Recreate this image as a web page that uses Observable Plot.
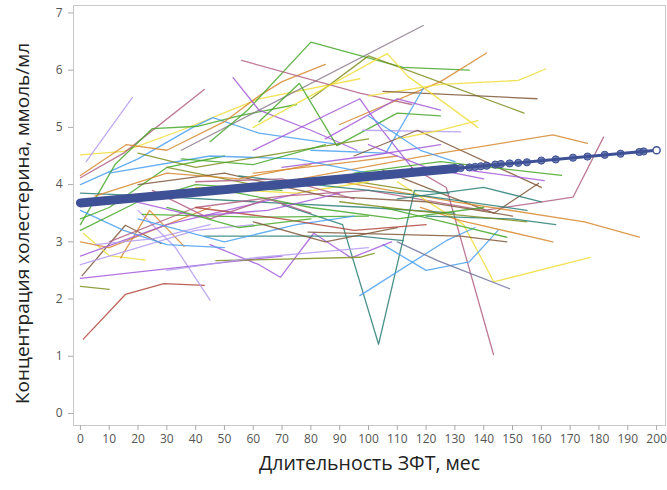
<!DOCTYPE html>
<html>
<head>
<meta charset="utf-8">
<script src="https://cdn.jsdelivr.net/npm/d3@7"></script>
<script src="https://cdn.jsdelivr.net/npm/@observablehq/plot@0.6"></script>
<style>
  html, body { margin: 0; padding: 0; background: #fff; }
  #chart { width: 667px; height: 490px; }
</style>
</head>
<body>
<div id="chart"></div>
<script>
// ---- Data ----
const xTicks = [0,10,20,30,40,50,60,70,80,90,100,110,120,130,140,150,160,170,180,190,200];
const yTicks = [0,1,2,3,4,5,6,7];

const xTitle = "Длительность ЗФТ, мес";
const yTitle = "Концентрация холестерина, ммоль/мл";

// palette of individual patient lines
const G = "#47A82A", Y = "#EEDD3A", L = "#B49AF0", O = "#D68A30", M = "#B26084",
      B = "#4AA0F0", P = "#A55AD8", OL = "#7F8E1F", T = "#2A7F76", BR = "#80583A",
      R = "#B0473C", SL = "#6A6F9A", GR = "#8C7C8C";

// individual trajectories: [month, value] pairs
const patientSeries = [
  [[0,4.52],[15,4.58],[35,4.95],[62,5.5],[97,5.85]],
  [[2,4.4],[18,5.52]],
  [[0,4.12],[15,4.55],[43,5.66]],
  [[0,4.0],[20,4.45],[39,5.0],[46,5.17],[62,4.9],[90,4.7]],
  [[0,3.3],[12,4.35],[25,4.98],[41,5.02],[55,5.2],[75,5.4]],
  [[0,4.16],[16,4.7],[30,4.6],[50,5.1],[62,5.55],[70,5.8],[85,6.1]],
  [[35,4.6],[119,6.78]],
  [[45,4.75],[58,5.3],[80,6.49],[112,6.05],[135,6.0]],
  [[56,6.17],[97,5.6],[115,5.4]],
  [[53,5.87],[62,5.3],[80,4.95],[96,4.6]],
  [[80,5.5],[100,6.25],[154,5.25]],
  [[90,5.05],[125,5.8],[141,6.3]],
  [[100,5.55],[125,5.75],[152,5.82],[161.5,6.02]],
  [[105,5.63],[158.5,5.5]],
  [[60,5.0],[106.5,6.29],[113.5,5.9],[138,5.0]],
  [[62,5.1],[76,5.77],[89,4.68],[110,5.25],[125,5.2]],
  [[80,4.6],[106,4.55],[119,5.68]],
  [[60,4.6],[97,5.5],[104,5.0],[115,4.3]],
  [[98,4.95],[132,4.92]],
  [[95,4.5],[117,4.95],[160,3.95]],
  [[95,4.2],[125,4.4],[167,4.16]],
  [[135,4.25],[161,4.07]],
  [[105,4.25],[125,3.85],[143.5,3.5],[159,4.02]],
  [[100,3.9],[140,3.55],[158,3.68],[171,3.78],[181.6,4.83]],
  [[85,4.1],[130,3.7],[175,3.35],[194,3.08]],
  [[110,4.05],[133,3.3],[143.5,2.3],[177,2.73]],
  [[60,3.95],[125,4.55],[164,4.87],[176,4.72]],
  [[115,4.3],[127,3.95],[143.4,1.03]],
  [[70,3.65],[91,3.3],[103.5,1.21],[116,3.9],[128,3.85]],
  [[97,2.06],[127,3.02],[137,3.25]],
  [[105,2.95],[120,2.5],[135,2.65],[145,3.2]],
  [[110,3.0],[124,2.67],[149,2.18]],
  [[118,3.6],[132,3.37],[164,3.0]],
  [[1,1.3],[15.6,2.08],[29,2.27],[43,2.24]],
  [[0,2.22],[10,2.17]],
  [[20,3.55],[33,2.9],[45,1.98]],
  [[0,2.36],[25,2.5],[50,2.64],[70,2.75]],
  [[45,2.95],[62,2.6],[69.4,2.38],[81,3.15],[94,2.72],[108,3.0]],
  [[47,2.67],[97,2.73],[102,2.8]],
  [[79,3.17],[132,3.1],[148,3.0]],
  [[21.5,3.48],[62.5,3.43],[100,3.45]],
  [[43,3.1],[97,3.1],[112,3.02]],
  [[0.6,2.41],[15.6,3.29],[28,2.97]],
  [[1,3.15],[10,2.76],[22.6,2.68]],
  [[14,2.72],[24,3.55],[36,2.92]],
  [[0,3.0],[10,2.9],[30,3.3],[45,3.6]],
  [[0,2.6],[20,2.9],[40,3.2],[60,3.3]],
  [[0,3.55],[15,3.2],[30,2.95],[50,2.9]],
  [[0,3.2],[20,3.7],[40,4.0],[70,3.9]],
  [[0,3.85],[25,3.8],[60,3.7],[100,3.6],[130,3.5]],
  [[0,3.4],[10,3.6],[30,4.3],[50,4.5]],
  [[0,2.75],[30,3.3],[55,3.6],[80,3.9]],
  [[10,3.0],[40,3.6],[70,3.8],[100,3.9]],
  [[30,4.3],[60,4.0],[90,4.1],[115,3.9]],
  [[40,3.95],[75,3.85],[100,4.05]],
  [[20,3.4],[50,3.0],[75,3.3],[95,3.45]],
  [[50,3.9],[80,3.6],[110,3.4],[140,3.6]],
  [[40,3.6],[70,3.4],[95,3.2],[120,3.3]],
  [[70,4.3],[100,4.5],[125,4.7]],
  [[20,4.0],[50,4.2],[85,3.8],[120,3.7],[150,3.45]],
  [[55,4.15],[90,3.95],[120,3.8],[155,3.55]],
  [[60,4.2],[95,4.4],[110,4.5]],
  [[105,3.6],[130,3.3],[148,3.08]],
  [[30,2.5],[60,2.72],[100,2.9]],
  [[10,4.2],[45,4.5],[75,4.45],[100,4.2]],
  [[25,3.9],[45,3.4],[65,3.75],[80,3.5]],
  [[110,4.8],[125,4.95],[138,5.12]],
  [[20,4.55],[40,4.3],[70,4.55],[100,4.8]],
  [[85,4.8],[110,5.5],[125,5.3]],
  [[120,3.45],[150,3.4],[165,3.3]],
  [[5,3.8],[30,4.2],[55,4.1],[80,4.35]],
  [[35,4.45],[60,4.35],[85,4.7]],
  [[15,3.75],[40,3.45],[65,3.55],[90,3.85]],
  [[40,4.05],[70,4.1],[95,3.75]],
  [[100,4.7],[120,4.3],[140,4.1]],
  [[90,3.7],[115,3.55],[135,3.45],[155,3.35]],
  [[110,3.75],[140,3.95],[160,3.7]],
  [[100,5.2],[118,4.6],[130,4.4]],
  [[30,3.6],[55,3.25],[80,3.4]],
  [[60,3.35],[85,3.0],[110,3.25]],
  [[5,2.95],[25,3.05],[45,3.3]]
];
const patientColors = [
  Y, L, M, B, G, O, GR, G, M, P,
  OL, O, Y, BR, Y, G, B, P, L, BR,
  G, P, BR, M, O, Y, O, M, T, B,
  B, SL, O, R, OL, L, P, P, OL, BR,
  G, T, BR, Y, O, O, L, B, G, T,
  G, P, M, OL, Y, B, G, R, P, BR,
  T, O, G, L, B, M, Y, OL, P, T,
  O, G, P, M, P, OL, T, B, G, BR,
  L
];

// mean (fitted) trajectory
const fitMonths = [0, 130, 200];
const fitValues = [3.68, 4.28, 4.6];
const fitDotMonths = [132,135,137,139,141,144,146,149,152,155,160,165,171,176,182,187.5,194,195.5,200];
const fitDotValues = [4.29,4.30,4.31,4.32,4.33,4.35,4.36,4.37,4.38,4.39,4.42,4.44,4.47,4.49,4.52,4.54,4.57,4.58,4.6];

// ---- Tables built from the arrays ----
const rows = patientSeries.flatMap((pts, i) =>
  pts.map(([m, v]) => ({id: i, month: m, value: v, color: patientColors[i % patientColors.length]})));
const fitRows = fitMonths.map((m, i) => ({month: m, value: fitValues[i]}));
const fitThick = fitRows.slice(0, 2);
const fitDots = fitDotMonths.map((m, i) => ({month: m, value: fitDotValues[i], last: i === fitDotMonths.length - 1}));

const FIT = "#3F5196";

const chart = Plot.plot({
  width: 667,
  height: 490,
  marginLeft: 73,
  marginRight: 2,
  marginTop: 5,
  marginBottom: 65,
  style: {fontFamily: "'Open Sans', sans-serif", background: "#fff"},
  x: {domain: [-2.4, 203.1]},
  y: {domain: [-0.21, 7.13]},
  color: {type: "identity"},
  marks: [
    Plot.frame({stroke: "#c8c8c8"}),
    Plot.line(rows, {x: "month", y: "value", z: "id", stroke: "color", strokeWidth: 1.3, strokeOpacity: 0.85}),
    Plot.line(fitThick, {x: "month", y: "value", stroke: FIT, strokeWidth: 9, strokeLinecap: "round"}),
    Plot.line(fitRows, {x: "month", y: "value", stroke: FIT, strokeWidth: 3}),
    Plot.dot(fitDots.filter(d => !d.last), {x: "month", y: "value", r: 3.6, fill: FIT, fillOpacity: 0.75, stroke: FIT, strokeWidth: 1}),
    Plot.dot(fitDots.filter(d => d.last), {x: "month", y: "value", r: 3.6, fill: "#fff", stroke: FIT, strokeWidth: 1.5}),
    Plot.axisX({ticks: xTicks, tickSize: 5, tickPadding: 4, fontSize: 12, stroke: "#aaa", color: "#555", label: null}),
    Plot.axisY({ticks: yTicks, tickSize: 5, tickPadding: 6, fontSize: 12, stroke: "#aaa", color: "#555", label: null}),
    Plot.text([xTitle], {frameAnchor: "bottom", dy: 31, fontSize: 19.5, fill: "#222", lineAnchor: "top"}),
    Plot.text([yTitle], {frameAnchor: "left", dx: -51, dy: 8, rotate: -90, fontSize: 19, fill: "#222", textAnchor: "middle"})
  ]
});
document.getElementById("chart").appendChild(chart);
</script>
</body>
</html>
